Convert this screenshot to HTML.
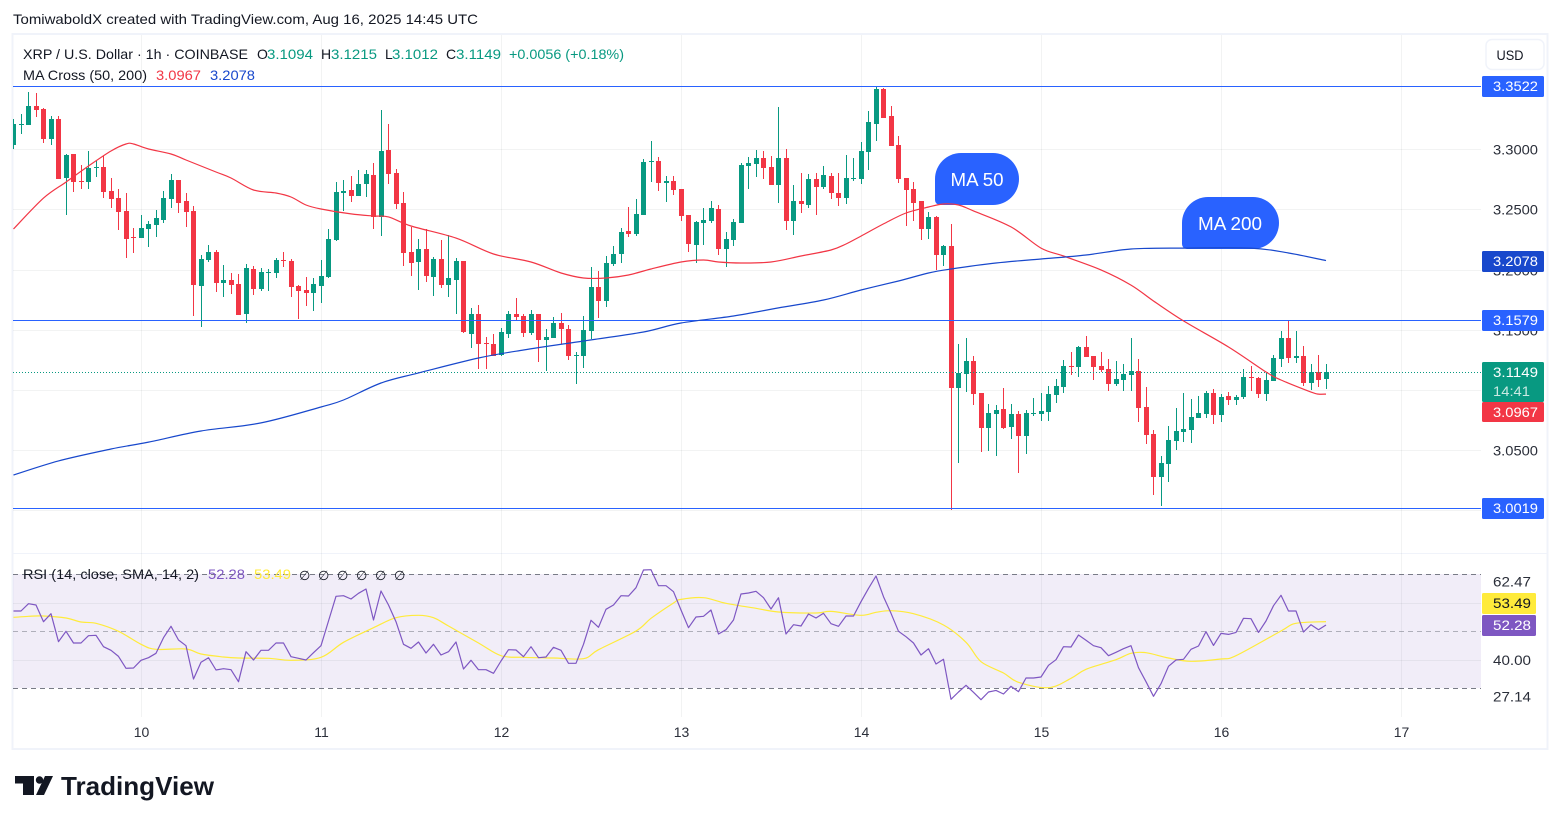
<!DOCTYPE html>
<html lang="en">
<head>
<meta charset="utf-8">
<title>XRP / U.S. Dollar 1h chart</title>
<style>
html,body{margin:0;padding:0;background:#fff;}
svg{display:block;}
text{font-family:"Liberation Sans",sans-serif;font-size:14px;fill:#131722;}
.axis{fill:#2a2e39;}
.tag{fill:#fff;}
</style>
</head>
<body>
<svg id="chart" xmlns="http://www.w3.org/2000/svg" width="1561" height="824" viewBox="0 0 1561 824">
  <defs><clipPath id="pane-clip"><rect x="13" y="35" width="1468" height="682"/></clipPath></defs>
  <rect x="0" y="0" width="1561" height="824" fill="#ffffff"/>
  <text x="13" y="24" textLength="465" lengthAdjust="spacingAndGlyphs">TomiwaboldX created with TradingView.com, Aug 16, 2025 14:45 UTC</text>
  <rect x="12.5" y="34" width="1535" height="715" fill="none" stroke="#f0f3fa" stroke-width="2"/>
  <rect x="13" y="553" width="1534" height="1" fill="#f0f3fa"/>
  <g id="grid"></g>
  <rect id="rsi-band" x="13" y="574" width="1468" height="114" fill="#7e57c2" fill-opacity="0.11"/>
  <g id="grid-rsi"></g>

  <path d="M935 179 a26 26 0 0 1 26 -26 h32 a26 26 0 0 1 0 52 h-53 a5 5 0 0 1 -5 -5 z" fill="#2962ff"/>
  <text class="tag" x="977" y="186" text-anchor="middle" style="font-size:18px" textLength="53" lengthAdjust="spacingAndGlyphs">MA 50</text>
  <path d="M1182 223 a26 26 0 0 1 26 -26 h45 a26 26 0 0 1 0 52 h-66 a5 5 0 0 1 -5 -5 z" fill="#2962ff"/>
  <text class="tag" x="1230" y="230" text-anchor="middle" style="font-size:18px" textLength="64" lengthAdjust="spacingAndGlyphs">MA 200</text>

  <g id="plot" clip-path="url(#pane-clip)">
    <g id="candles"></g>
    <g id="levels"></g>
    <g id="ma-lines"></g>
    <g id="rsi-lines"></g>
  </g>

  <g>
    <text x="23" y="59" textLength="225" lengthAdjust="spacingAndGlyphs">XRP / U.S. Dollar · 1h · COINBASE</text>
    <text x="257" y="59">O</text>
    <text x="267" y="59" style="fill:#089981" textLength="46" lengthAdjust="spacingAndGlyphs">3.1094</text>
    <text x="321" y="59">H</text>
    <text x="331" y="59" style="fill:#089981" textLength="46" lengthAdjust="spacingAndGlyphs">3.1215</text>
    <text x="385" y="59">L</text>
    <text x="392" y="59" style="fill:#089981" textLength="46" lengthAdjust="spacingAndGlyphs">3.1012</text>
    <text x="446" y="59">C</text>
    <text x="456" y="59" style="fill:#089981" textLength="45" lengthAdjust="spacingAndGlyphs">3.1149</text>
    <text x="509" y="59" style="fill:#089981" textLength="115" lengthAdjust="spacingAndGlyphs">+0.0056 (+0.18%)</text>
    <text x="23" y="80" textLength="124" lengthAdjust="spacingAndGlyphs">MA Cross (50, 200)</text>
    <text x="156" y="80" style="fill:#f23645" textLength="45" lengthAdjust="spacingAndGlyphs">3.0967</text>
    <text x="210" y="80" style="fill:#1848cc" textLength="45" lengthAdjust="spacingAndGlyphs">3.2078</text>
  </g>

  <g>
    <text x="23" y="579" textLength="176" lengthAdjust="spacingAndGlyphs">RSI (14, close, SMA, 14, 2)</text>
    <text x="208" y="579" style="fill:#7e57c2" textLength="37" lengthAdjust="spacingAndGlyphs">52.28</text>
    <text x="254" y="579" style="fill:#ffeb3b" textLength="37" lengthAdjust="spacingAndGlyphs">53.49</text>
    <text x="299" y="580" style="font-family:'DejaVu Sans',sans-serif;font-size:13px">∅</text>
    <text x="318" y="580" style="font-family:'DejaVu Sans',sans-serif;font-size:13px">∅</text>
    <text x="337" y="580" style="font-family:'DejaVu Sans',sans-serif;font-size:13px">∅</text>
    <text x="356" y="580" style="font-family:'DejaVu Sans',sans-serif;font-size:13px">∅</text>
    <text x="375" y="580" style="font-family:'DejaVu Sans',sans-serif;font-size:13px">∅</text>
    <text x="394" y="580" style="font-family:'DejaVu Sans',sans-serif;font-size:13px">∅</text>
  </g>

  <g id="price-axis"></g>
  <g id="rsi-axis"></g>
  <g id="time-axis"></g>
  <g id="price-tags"></g>

  <rect x="1486" y="39.5" width="58" height="30" rx="6" fill="#ffffff" stroke="#f0f3fa" stroke-width="1.5"/>
  <text x="1510" y="60" text-anchor="middle" textLength="27" lengthAdjust="spacingAndGlyphs">USD</text>

  <g>
    <path d="M15 776 H34 V795 H23 V783.5 H15 Z" fill="#131722"/>
    <circle cx="39.5" cy="780" r="3.7" fill="#131722"/>
    <path d="M45 776 H53 L44 795 H36 Z" fill="#131722"/>
    <text x="61" y="795" style="font-size:26px;font-weight:700;fill:#131722" textLength="153" lengthAdjust="spacingAndGlyphs">TradingView</text>
  </g>
</svg>

<script>
const opens=[3.3039,3.3206,3.3206,3.3364,3.3339,3.3089,3.3256,3.2765,3.2965,3.2740,3.2731,3.2848,3.2857,3.2657,3.2598,3.2491,3.2274,3.2265,3.2341,3.2374,3.2416,3.2590,3.2748,3.2574,3.2491,3.1866,3.2083,3.2149,3.1891,3.1916,3.1883,3.1634,3.2008,3.1842,3.1975,3.1975,3.2083,3.2075,3.1866,3.1833,3.1808,3.1866,3.1941,3.2249,3.2640,3.2665,3.2615,3.2715,3.2790,3.2441,3.2998,3.2807,3.2557,3.2149,3.2066,3.2174,3.1941,3.2091,3.1875,3.1916,3.2075,3.1467,3.1634,3.1392,3.1384,3.1292,3.1467,3.1634,3.1617,3.1476,3.1634,3.1417,3.1434,3.1559,3.1509,3.1284,3.1284,3.1492,3.1858,3.1742,3.2050,3.2133,3.2324,3.2299,3.2457,3.2898,3.2907,3.2723,3.2740,3.2673,3.2457,3.2208,3.2391,3.2408,3.2507,3.2174,3.2249,3.2391,3.2865,3.2882,3.2931,3.2857,3.2706,3.2931,3.2408,3.2574,3.2540,3.2757,3.2690,3.2782,3.2640,3.2598,3.2757,3.2757,3.2981,3.3215,3.3505,3.3281,3.3039,3.2765,3.2673,3.2574,3.2341,3.2441,3.2124,3.2199,3.1018,3.1135,3.1243,3.0976,3.0685,3.0802,3.0843,3.0693,3.0802,3.0618,3.0802,3.0802,3.0818,3.0960,3.1026,3.1201,3.1193,3.1359,3.1284,3.1201,3.1176,3.1051,3.1084,3.1126,3.1159,3.0860,3.0635,3.0277,3.0386,3.0577,3.0652,3.0668,3.0768,3.0802,3.0976,3.0793,3.0951,3.0918,3.0943,3.1109,3.1101,3.0968,3.1076,3.1259,3.1434,3.1267,3.1284,3.1059,3.1151,3.1094];
const highs=[3.3256,3.3298,3.3480,3.3472,3.3347,3.3281,3.3281,3.2965,3.2965,3.2873,3.2990,3.2907,3.2948,3.2765,3.2673,3.2640,3.2349,3.2457,3.2408,3.2499,3.2657,3.2799,3.2748,3.2640,3.2532,3.2124,3.2208,3.2166,3.2042,3.1975,3.1966,3.2050,3.2033,3.2017,3.2008,3.2099,3.2149,3.2091,3.1875,3.1941,3.1933,3.2083,3.2341,3.2731,3.2748,3.2782,3.2832,3.2832,3.2890,3.3331,3.3215,3.2840,3.2648,3.2358,3.2257,3.2341,3.2108,3.2249,3.2290,3.2099,3.2075,3.1684,3.1708,3.1442,3.1467,3.1517,3.1659,3.1767,3.1634,3.1667,3.1634,3.1509,3.1609,3.1642,3.1542,3.1317,3.1617,3.2025,3.1992,3.2116,3.2199,3.2349,3.2524,3.2590,3.2923,3.3073,3.2940,3.2782,3.2782,3.2673,3.2457,3.2408,3.2515,3.2574,3.2540,3.2315,3.2424,3.2890,3.2940,3.2998,3.2990,3.2948,3.3356,3.3006,3.2706,3.2807,3.2799,3.2807,3.2865,3.2807,3.2807,3.2956,3.2931,3.3065,3.3323,3.3530,3.3514,3.3364,3.3114,3.2765,3.2731,3.2574,3.2482,3.2449,3.2208,3.2383,3.1384,3.1434,3.1284,3.0976,3.0885,3.0876,3.1018,3.0885,3.0827,3.0835,3.0934,3.0976,3.1034,3.1093,3.1251,3.1317,3.1367,3.1450,3.1284,3.1317,3.1259,3.1243,3.1218,3.1434,3.1259,3.1026,3.0668,3.0452,3.0702,3.0851,3.0976,3.0926,3.0951,3.0993,3.1009,3.0968,3.0984,3.0960,3.1176,3.1201,3.1109,3.1143,3.1292,3.1492,3.1584,3.1492,3.1367,3.1218,3.1292,3.1215];
const lows=[3.3006,3.3131,3.3206,3.3273,3.3056,3.3039,3.2757,3.2457,3.2648,3.2673,3.2673,3.2774,3.2598,3.2515,3.2332,3.2099,3.2141,3.2265,3.2191,3.2274,3.2391,3.2515,3.2474,3.2358,3.1617,3.1525,3.2066,3.1816,3.1775,3.1800,3.1625,3.1559,3.1792,3.1825,3.1825,3.1933,3.2025,3.1775,3.1592,3.1700,3.1659,3.1725,3.1933,3.2241,3.2491,3.2565,3.2615,3.2607,3.2341,3.2282,3.2715,3.2507,3.2033,3.1950,3.1833,3.1900,3.1783,3.1850,3.1775,3.1634,3.1476,3.1350,3.1176,3.1176,3.1284,3.1284,3.1434,3.1584,3.1442,3.1459,3.1234,3.1159,3.1434,3.1384,3.1251,3.1051,3.1184,3.1425,3.1600,3.1692,3.2033,3.2058,3.2274,3.2282,3.2457,3.2731,3.2657,3.2565,3.2623,3.2408,3.2149,3.2058,3.2208,3.2391,3.2124,3.2025,3.2199,3.2391,3.2673,3.2774,3.2757,3.2706,3.2557,3.2332,3.2290,3.2474,3.2515,3.2457,3.2673,3.2590,3.2532,3.2549,3.2740,3.2715,3.2832,3.3073,3.3264,3.3031,3.2723,3.2366,3.2408,3.2249,3.2257,3.2000,3.2033,3.0003,3.0394,3.0984,3.0876,3.0485,3.0494,3.0452,3.0677,3.0593,3.0311,3.0469,3.0785,3.0744,3.0744,3.0893,3.0976,3.1126,3.1109,3.1276,3.1084,3.1151,3.0993,3.1034,3.0993,3.0993,3.0735,3.0552,3.0128,3.0036,3.0236,3.0502,3.0568,3.0560,3.0768,3.0768,3.0718,3.0735,3.0876,3.0876,3.0926,3.0993,3.0934,3.0910,3.1076,3.1193,3.1226,3.1226,3.1034,3.1001,3.1026,3.1012];
const closes=[3.3215,3.3215,3.3364,3.3331,3.3089,3.3256,3.2757,3.2956,3.2731,3.2731,3.2848,3.2857,3.2648,3.2590,3.2482,3.2257,3.2265,3.2349,3.2383,3.2432,3.2598,3.2748,3.2557,3.2482,3.1875,3.2091,3.2149,3.1891,3.1916,3.1875,3.1625,3.2017,3.1842,3.1983,3.1983,3.2083,3.2075,3.1858,3.1825,3.1808,3.1883,3.1950,3.2257,3.2648,3.2657,3.2615,3.2715,3.2799,3.2441,3.2990,3.2799,3.2549,3.2141,3.2058,3.2174,3.1950,3.2091,3.1875,3.1933,3.2075,3.1484,3.1634,3.1384,3.1384,3.1284,3.1484,3.1634,3.1609,3.1476,3.1634,3.1417,3.1442,3.1559,3.1509,3.1284,3.1292,3.1500,3.1858,3.1742,3.2058,3.2133,3.2315,3.2299,3.2466,3.2898,3.2907,3.2723,3.2740,3.2665,3.2449,3.2216,3.2399,3.2416,3.2515,3.2174,3.2257,3.2399,3.2873,3.2890,3.2931,3.2848,3.2706,3.2931,3.2408,3.2574,3.2549,3.2757,3.2690,3.2790,3.2640,3.2598,3.2765,3.2765,3.2990,3.3231,3.3505,3.3264,3.3031,3.2757,3.2665,3.2557,3.2341,3.2441,3.2124,3.2199,3.1018,3.1143,3.1243,3.0968,3.0685,3.0810,3.0835,3.0685,3.0802,3.0618,3.0810,3.0810,3.0827,3.0968,3.1034,3.1201,3.1193,3.1359,3.1276,3.1193,3.1168,3.1051,3.1093,3.1135,3.1159,3.0851,3.0627,3.0277,3.0394,3.0585,3.0660,3.0677,3.0777,3.0810,3.0976,3.0793,3.0943,3.0918,3.0943,3.1109,3.1101,3.0968,3.1084,3.1267,3.1434,3.1267,3.1284,3.1059,3.1151,3.1084,3.1149];

const ma50Hours=[0,4,7,10,13,15,16,18,21,23,27,29,32,35,37,39,41,45,48,50,53,59,64,69,73,76,79,82,85,89,92,94,97,101,105,109,111,113,116,119,122,124,126,128,133,137,140,145,149,152,156,162,167,169,173,174,175];
const ma50Values=[3.2341,3.2598,3.2731,3.2865,3.2990,3.3048,3.3048,3.3006,3.2965,3.2915,3.2815,3.2765,3.2665,3.2640,3.2607,3.2540,3.2507,3.2466,3.2449,3.2441,3.2366,3.2265,3.2133,3.2066,3.1975,3.1933,3.1933,3.1958,3.2008,3.2066,3.2083,3.2066,3.2058,3.2066,3.2116,3.2166,3.2216,3.2282,3.2383,3.2474,3.2524,3.2549,3.2540,3.2491,3.2358,3.2182,3.2116,3.2000,3.1874,3.1742,3.1576,3.1359,3.1151,3.1084,3.0984,3.0967,3.0967];
const ma200Hours=[0,6,13,18,25,33,41,44,49,54,62,68,76,84,89,96,102,108,113,118,122,125,131,137,143,149,156,165,170,175];
const ma200Values=[3.0294,3.0411,3.0510,3.0568,3.0660,3.0727,3.0860,3.0918,3.1059,3.1143,3.1267,3.1334,3.1409,3.1484,3.1559,3.1617,3.1684,3.1750,3.1833,3.1908,3.1975,3.2008,3.2058,3.2091,3.2124,3.2174,3.2182,3.2182,3.2141,3.2078];

const rsiValues=[57.19,57.19,59.76,59.3,53.45,56.26,46.43,50.06,45.96,45.96,48.54,48.65,44.68,43.39,41.28,37.08,37.19,39.88,40.82,42.34,47.83,51.81,47.02,45.03,33.33,39.18,40.82,36.49,36.96,36.61,32.4,42.92,40.0,43.39,43.39,45.96,45.96,41.17,40.58,40.0,42.57,45.03,53.68,62.34,62.57,61.4,63.39,64.91,54.03,64.21,59.3,53.45,45.5,44.09,46.31,42.45,45.5,41.75,42.92,46.31,36.84,39.88,36.61,36.61,35.32,39.65,43.62,43.51,41.17,44.68,40.82,41.05,44.44,43.39,38.83,38.83,45.5,53.92,51.46,57.78,59.3,62.57,62.45,65.38,71.58,71.69,66.08,66.08,63.97,57.54,51.34,55.09,55.32,57.54,49.12,50.64,54.03,63.16,63.51,64.09,61.87,57.89,61.87,49.12,52.4,51.93,56.14,54.73,56.37,52.75,51.81,55.44,55.44,60.47,65.14,69.47,62.22,56.37,50.06,48.19,45.96,41.75,43.97,38.6,40.23,26.2,28.77,31.11,28.65,26.08,28.77,29.35,28.07,30.76,28.89,33.68,33.68,34.03,38.13,40.12,44.68,44.56,48.77,46.9,45.03,44.33,41.52,42.69,43.97,45.03,37.31,32.4,27.25,31.69,37.78,40.0,40.23,43.74,44.91,49.94,45.14,49.35,49.0,49.7,54.62,54.5,49.7,53.68,59.06,62.69,57.19,57.19,49.82,52.4,50.64,52.28];
const rsiSmaHours=[0,2,4,7,9,11,14,17,19,23,25,28,30,34,37,41,44,48,51,54,56,58,62,65,68,72,76,78,83,85,88,89,92,95,99,102,107,109,113,115,117,120,124,127,129,132,134,138,141,143,147,149,151,154,157,161,163,169,171,175];
const rsiSmaValues=[54.97,55.32,55.44,54.73,53.33,52.86,50.06,45.5,43.74,43.86,42.1,41.05,40.7,40.58,39.88,40.93,46.2,51.34,54.85,55.67,54.85,51.93,45.96,41.52,40.93,40.7,40.47,43.62,50.17,54.62,60.0,61.28,61.87,59.88,58.13,56.84,56.49,57.07,55.67,56.72,57.31,56.26,52.28,46.2,39.41,35.44,32.16,30.29,33.57,36.72,40.11,42.34,42.57,40.7,39.53,40.35,41.52,50.17,52.86,53.49];

const priceTicks=[3.30,3.25,3.20,3.15,3.10,3.05,3.00];
const levelPrices=[3.3522,3.1579,3.0019];
const rsiGridValues=[60,40];
const rsiBandValues=[70,50,30];
const rsiAxisTickValues=[67.47,40,27.14];
const rsiAxisTickLabels=['62.47','40.00','27.14'];
const dayLabels=['10','11','12','13','14','15','16','17'];
const dayHours=[17,41,65,89,113,137,161,185];
const lastPrice=3.1149;
const lastMa50=3.0967;
const lastMa200=3.2078;
const lastRsi=52.28;
const lastRsiSma=53.49;
const countdown='14:41';

const SVG_NS='http://www.w3.org/2000/svg';
const GREEN='#089981',RED='#f23645',BLUE='#2962ff',GRID='rgba(42,46,57,0.06)';
const xOf=function(h){return 13+7.5*h;};
const xPx=function(h){return Math.ceil(xOf(h));};
const yOf=function(p){return (3.4246-p)*1201.9;};
const levelY=function(p){return Math.floor(86.5+(3.3522-p)*1204);};
const rsiY=function(v){return 660-(v-40)*2.85;};
function mk(tag,attrs,parent,txt){
  const el=document.createElementNS(SVG_NS,tag);
  for(const k in attrs){el.setAttribute(k,attrs[k]);}
  if(txt!==undefined){el.textContent=txt;}
  parent.appendChild(el);
  return el;
}
const $=function(id){return document.getElementById(id);};
function linePath(hours,vals,yf){
  return hours.map(function(h,i){return (i?'L':'M')+(xOf(h)+0.5).toFixed(1)+' '+yf(vals[i]).toFixed(1);}).join(' ');
}
function smoothPath(hours,vals,yf){
  const pts=hours.map(function(h,i){return [xOf(h)+0.5,yf(vals[i])];});
  let d='M'+pts[0][0].toFixed(1)+' '+pts[0][1].toFixed(1);
  for(let i=0;i<pts.length-1;i++){
    const p0=pts[Math.max(0,i-1)],p1=pts[i],p2=pts[i+1],p3=pts[Math.min(pts.length-1,i+2)];
    const c1x=p1[0]+(p2[0]-p0[0])/6,c1y=p1[1]+(p2[1]-p0[1])/6;
    const c2x=p2[0]-(p3[0]-p1[0])/6,c2y=p2[1]-(p3[1]-p1[1])/6;
    d+=' C'+c1x.toFixed(1)+' '+c1y.toFixed(1)+' '+c2x.toFixed(1)+' '+c2y.toFixed(1)+' '+p2[0].toFixed(1)+' '+p2[1].toFixed(1);
  }
  return d;
}

priceTicks.forEach(function(p){
  const y=Math.floor(yOf(p)+0.1)+0.5;
  const g=mk('line',{x1:13,x2:1481,y1:y,y2:y,stroke:GRID},$('grid'));
  
  
  const t=mk('text',{x:1493,y:y+5,'class':'axis',textLength:45,lengthAdjust:'spacingAndGlyphs'},$('price-axis'),p.toFixed(4));
  
  
});
dayHours.forEach(function(h,i){
  const x=xPx(h)+0.5;
  const g=mk('line',{x1:x,x2:x,y1:35,y2:717,stroke:GRID},$('grid'));
  
  
  const t=mk('text',{x:x,y:737,'text-anchor':'middle','class':'axis'},$('time-axis'),dayLabels[i]);
  
  
});
rsiGridValues.forEach(function(v){
  const y=Math.floor(rsiY(v))+0.5;
  const g=mk('line',{x1:13,x2:1481,y1:y,y2:y,stroke:GRID},$('grid-rsi'));
  
  
});
rsiBandValues.forEach(function(v){
  const y=Math.floor(rsiY(v))+0.5;
  const g=mk('line',{x1:13,x2:1481,y1:y,y2:y,stroke:'#787b86','stroke-dasharray':'5 4','stroke-opacity':v===50?0.55:1},$('grid-rsi'));
  
  
});
rsiAxisTickValues.forEach(function(v,i){
  const t=mk('text',{x:1493,y:rsiY(v)+5,'class':'axis',textLength:38,lengthAdjust:'spacingAndGlyphs'},$('rsi-axis'),rsiAxisTickLabels[i]);
  
  
});

opens.forEach(function(o,i){
  const c=closes[i];
  const col=c>=o?GREEN:RED;
  const px=xPx(i);
  const hy=Math.round(yOf(highs[i]));
  const ly=Math.round(yOf(lows[i]));
  const ty=Math.round(yOf(Math.max(o,c)));
  const by=Math.round(yOf(Math.min(o,c)));
  const w=mk('rect',{x:px,y:hy,width:1,height:Math.max(1,ly-hy),fill:col},$('candles'));
  
  
  const b=mk('rect',{x:px-2,y:ty,width:5,height:Math.max(1,by-ty),fill:col},$('candles'));
  
  
});

levelPrices.forEach(function(p){
  const y=levelY(p)+0.5;
  const l=mk('line',{x1:13,x2:1481,y1:y,y2:y,stroke:BLUE,'stroke-width':1},$('levels'));
  
  
});
const lastY=Math.floor(yOf(lastPrice))+0.5;
const lastLine=mk('line',{x1:13,x2:1481,y1:lastY,y2:lastY,stroke:GREEN,'stroke-dasharray':'1 2'},$('levels'));



const ma50Line=mk('path',{d:smoothPath(ma50Hours,ma50Values,yOf),fill:'none',stroke:RED,'stroke-width':1.2,'stroke-linejoin':'round'},$('ma-lines'));


const ma200Line=mk('path',{d:smoothPath(ma200Hours,ma200Values,yOf),fill:'none',stroke:'#1848cc','stroke-width':1.2,'stroke-linejoin':'round'},$('ma-lines'));



const rsiHours=rsiValues.map(function(v,i){return i;});
const smaLine=mk('path',{d:smoothPath(rsiSmaHours,rsiSmaValues,rsiY),fill:'none',stroke:'#ffeb3b','stroke-width':1.2,'stroke-linejoin':'round'},$('rsi-lines'));


const rsiLine=mk('path',{d:linePath(rsiHours,rsiValues,rsiY),fill:'none',stroke:'#7e57c2','stroke-width':1.2,'stroke-linejoin':'round'},$('rsi-lines'));



function tag(value,y,h,bg,fg,w,name){
  const r=mk('rect',{x:1482,y:y,width:w,height:h,rx:1.5,fill:bg},$('price-tags'));
  
  
  const t=mk('text',{x:1493,y:y+15,style:'fill:'+fg,textLength:value.length>5?45:38,lengthAdjust:'spacingAndGlyphs'},$('price-tags'),value);
  
  
}
tag(levelPrices[0].toFixed(4),levelY(levelPrices[0])-10,21,BLUE,'#fff',62,'level-high-tag');
tag(levelPrices[1].toFixed(4),levelY(levelPrices[1])-10,21,BLUE,'#fff',62,'level-mid-tag');
tag(levelPrices[2].toFixed(4),levelY(levelPrices[2])-10,21,BLUE,'#fff',62,'level-low-tag');
tag(lastMa200.toFixed(4),Math.round(yOf(lastMa200))-10,21,'#1848cc','#fff',62,'ma-200-tag');
const lastTop=Math.round(yOf(lastPrice))-10;
const lastBottom=lastTop+40;
tag(lastPrice.toFixed(4),lastTop,40,GREEN,'#fff',62,'last-price-tag');
const cd=mk('text',{x:1493,y:lastTop+34,style:'fill:#c9e9e2',textLength:37,lengthAdjust:'spacingAndGlyphs'},$('price-tags'),countdown);


tag(lastMa50.toFixed(4),Math.max(Math.round(yOf(lastMa50))-10,lastBottom),20,RED,'#fff',62,'ma-50-tag');
const rsiTop=Math.round(rsiY(lastRsi))-10;
tag(lastRsi.toFixed(2),rsiTop,21,'#7e57c2','#fff',54,'rsi-tag');
tag(lastRsiSma.toFixed(2),Math.min(Math.round(rsiY(lastRsiSma))-10,rsiTop-22),21,'#ffeb3b','#131722',54,'rsi-sma-tag');
</script>
</body>
</html>
